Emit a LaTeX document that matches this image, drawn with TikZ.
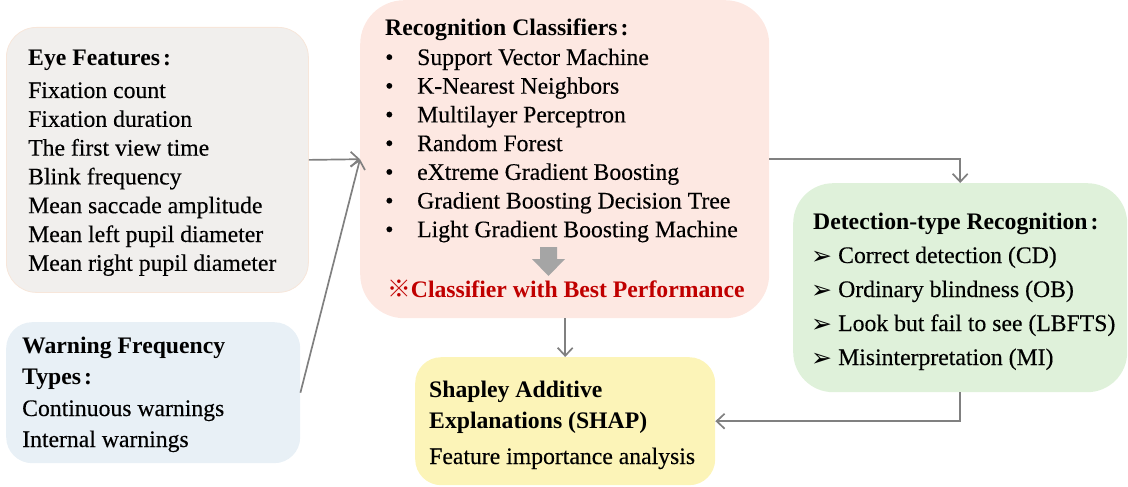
\documentclass[tikz,border=0pt]{standalone}
\usepackage{fontspec}
\setmainfont{Liberation Serif}[UprightFeatures={FakeBold=0.3}]
\newfontfamily\cjk{Noto Sans CJK SC}
\newfontfamily\sym{DejaVu Sans}
\usetikzlibrary{arrows.meta}

\definecolor{eyefill}{HTML}{F1EFED}
\definecolor{eyeline}{HTML}{F7E6DA}
\definecolor{recogfill}{HTML}{FDE8E2}
\definecolor{warnfill}{HTML}{E8F0F6}
\definecolor{shapfill}{HTML}{FCF4B8}
\definecolor{detfill}{HTML}{DFF1DA}
\definecolor{linegray}{HTML}{808080}
\definecolor{blockgray}{HTML}{A5A5A5}
\definecolor{bestred}{HTML}{C00000}

\tikzset{
  panel/.style={rectangle, rounded corners=#1, inner sep=0pt, anchor=north west},
  ln/.style={anchor=base west, inner sep=0pt, font=\rmfamily\mdseries\fontsize{23.7}{28}\selectfont},
  hd/.style={anchor=base west, inner sep=0pt, font=\rmfamily\bfseries\fontsize{23.7}{28}\selectfont},
  conn/.style={draw=linegray, line width=1.7pt, -{Straight Barb[length=8pt,width=15pt]}},
  pointer/.style={anchor=base west, inner sep=0pt, font=\sym\fontsize{25}{28}\selectfont},
}
\newcommand{\hdcolon}{\hspace{3pt}:}

\begin{document}
\begin{tikzpicture}[x=1pt,y=-1pt]
\useasboundingbox (0,0) rectangle (1128,487);

% panels
\node[panel=30pt, fill=eyefill, draw=eyeline, line width=0.8pt,
      minimum width=302pt, minimum height=265pt] (eye) at (6,27) {};
\node[panel=26pt, fill=warnfill, minimum width=294pt, minimum height=141pt] (warn) at (6,322) {};
\node[panel=44pt, fill=recogfill, minimum width=409pt, minimum height=318pt] (recog) at (360,0) {};
\node[panel=26pt, fill=shapfill, minimum width=300pt, minimum height=128pt] (shap) at (415,357) {};
\node[panel=40pt, fill=detfill, minimum width=334pt, minimum height=209pt] (det) at (793,183) {};

% eye features
\node[hd] (eye-h) at (28,66) {Eye Features\hdcolon};
\foreach \lbl [count=\k from 0] in {Fixation count, Fixation duration, The first view time,
    Blink frequency, Mean saccade amplitude, Mean left pupil diameter, Mean right pupil diameter}
  \node[ln] (eye-\k) at (28,{98+28.8*\k}) {\lbl};

% warning frequency types
\node[hd] (warn-h1) at (22,353) {Warning Frequency};
\node[hd] (warn-h2) at (22,384) {Types\hdcolon};
\node[ln] (warn-0) at (22,416) {Continuous warnings};
\node[ln] (warn-1) at (22,447) {Internal warnings};

% recognition classifiers
\node[hd] (recog-h) at (385,36) {Recognition Classifiers\hdcolon};
\foreach \lbl [count=\k from 0] in {Support Vector Machine, K-Nearest Neighbors, Multilayer Perceptron,
    Random Forest, eXtreme Gradient Boosting, Gradient Boosting Decision Tree, Light Gradient Boosting Machine}{
  \node[ln] (recog-b\k) at (385,{65+28.7*\k}) {•};
  \node[ln] (recog-\k) at (417,{65+28.7*\k}) {\lbl};
}
\fill[blockgray] (540,247) -- (557,247) -- (557,259) -- (565,259) -- (548.5,276)
  -- (532,259) -- (540,259) -- cycle;
\node[hd, text=bestred] (best) at (387,297) {{\cjk ※}Classifier with Best Performance};

% SHAP
\node[hd] (shap-h1) at (429,397) {Shapley Additive};
\node[hd] (shap-h2) at (429,428) {Explanations (SHAP)};
\node[ln] (shap-0) at (429,464) {Feature importance analysis};

% detection-type recognition
\node[hd] (det-h) at (813,229) {Detection-type Recognition\hdcolon};
\foreach \lbl [count=\k from 0] in {Correct detection (CD), Ordinary blindness (OB),
    Look but fail to see (LBFTS), Misinterpretation (MI)}{
  \node[pointer] (det-p\k) at (811,{264+34*\k}) {➢};
  \node[ln] (det-\k) at (838,{263+34*\k}) {\lbl};
}

% connectors
\draw[conn] (eye.east) -- (recog.west);
\draw[conn] (warn.east) -- (recog.west);
\draw[conn] (recog.east) -| (det.north);
\draw[conn] (shap.north |- recog.south) -- (shap.north);
\draw[conn] (det.south) |- (shap.east);
\end{tikzpicture}
\end{document}
